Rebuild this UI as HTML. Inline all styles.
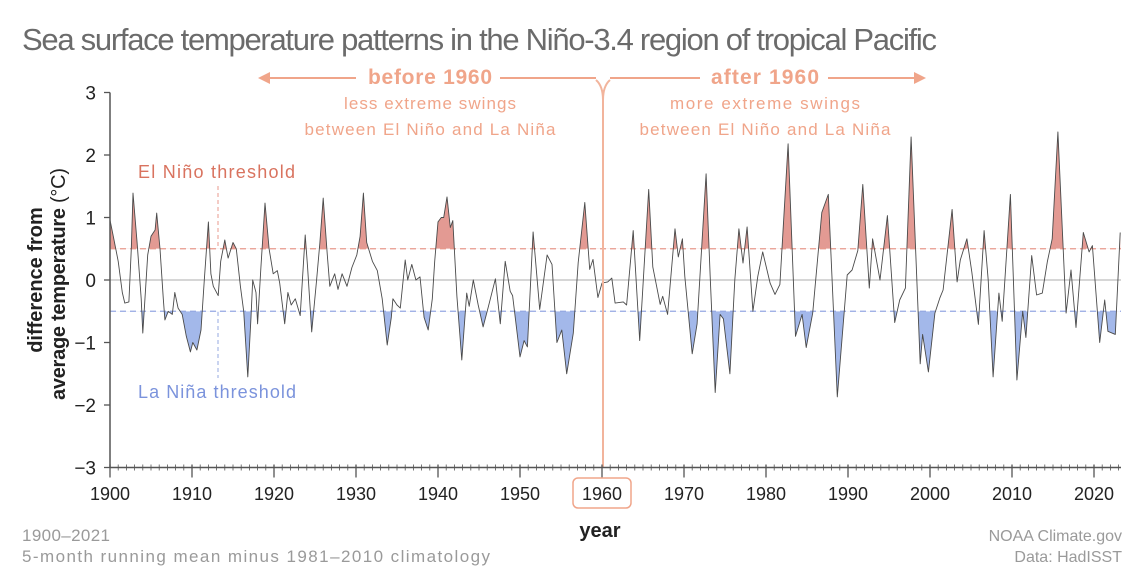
<!DOCTYPE html>
<html><head><meta charset="utf-8"><style>
html,body{margin:0;padding:0;background:#fff;width:1148px;height:572px;overflow:hidden}
svg{display:block;font-family:"Liberation Sans",sans-serif}
</style></head><body>
<svg id="chart" width="1148" height="572" viewBox="0 0 1148 572">
<text x="22" y="50" font-size="31" fill="#6b6b6b" textLength="915">Sea surface temperature patterns in the Niño-3.4 region of tropical Pacific</text>
<g id="plot"></g>
</svg>
<script>
const years=[1900.0,1900.4,1901.0,1901.5,1901.8,1902.3,1902.6,1902.8,1903.3,1903.8,1904.0,1904.6,1905.0,1905.5,1905.7,1906.1,1906.5,1906.7,1907.1,1907.6,1907.9,1908.3,1908.8,1909.3,1909.8,1910.1,1910.6,1911.1,1911.5,1912.0,1912.3,1912.6,1913.2,1913.5,1914.0,1914.4,1915.0,1915.4,1915.9,1916.3,1916.8,1917.2,1917.4,1917.8,1918.0,1918.4,1918.9,1919.4,1919.9,1920.4,1920.7,1921.3,1921.7,1922.1,1922.6,1923.2,1923.8,1924.1,1924.6,1925.2,1925.6,1926.0,1926.5,1926.8,1927.4,1927.8,1928.3,1928.9,1929.5,1930.1,1930.5,1930.9,1931.3,1932.0,1932.6,1933.2,1933.8,1934.3,1934.5,1935.0,1935.4,1936.0,1936.3,1936.8,1937.3,1937.8,1938.3,1938.8,1939.3,1939.6,1940.0,1940.4,1940.7,1941.1,1941.5,1941.8,1942.3,1942.9,1943.5,1943.8,1944.3,1944.9,1945.5,1946.1,1947.0,1947.6,1948.2,1948.8,1949.1,1950.0,1950.5,1950.9,1951.6,1952.4,1953.3,1953.9,1954.5,1955.1,1955.7,1956.5,1957.1,1957.9,1958.5,1958.9,1959.5,1960.0,1960.7,1961.2,1961.6,1962.6,1963.0,1963.8,1964.6,1965.7,1966.2,1967.1,1967.4,1968.0,1968.9,1969.3,1969.8,1970.1,1971.0,1971.6,1972.7,1973.2,1973.8,1974.4,1974.8,1975.6,1976.2,1976.7,1977.2,1977.7,1978.4,1979.0,1979.6,1980.5,1981.1,1981.7,1982.7,1983.6,1984.4,1984.9,1985.7,1986.8,1987.6,1988.7,1989.9,1990.5,1991.2,1991.8,1992.6,1993.0,1993.9,1994.8,1995.7,1996.3,1997.0,1997.7,1998.8,1999.1,1999.8,2000.6,2001.2,2001.6,2002.7,2003.3,2003.7,2004.5,2005.1,2005.9,2006.6,2007.1,2007.7,2008.4,2008.8,2009.8,2010.6,2011.3,2011.7,2012.4,2013.0,2013.7,2014.3,2014.9,2015.6,2016.6,2017.2,2017.8,2018.7,2019.4,2019.8,2020.7,2021.3,2021.7,2022.6,2023.2];
const anomalies=[0.96,0.7,0.3,-0.2,-0.37,-0.35,0.5,1.39,0.6,-0.3,-0.85,0.4,0.7,0.8,1.07,0.5,-0.3,-0.64,-0.5,-0.55,-0.2,-0.45,-0.55,-0.9,-1.15,-1.0,-1.12,-0.8,0.0,0.93,0.1,-0.1,-0.25,0.3,0.64,0.35,0.6,0.5,-0.1,-0.5,-1.55,-0.6,0.0,-0.2,-0.7,0.2,1.23,0.5,0.1,0.15,-0.05,-0.7,-0.2,-0.4,-0.3,-0.57,0.72,0.2,-0.83,0.0,0.6,1.31,0.4,-0.1,0.1,-0.15,0.1,-0.1,0.2,0.4,0.7,1.39,0.6,0.3,0.15,-0.3,-1.04,-0.6,-0.3,-0.4,-0.45,0.32,0.0,0.25,0.0,0.05,-0.6,-0.8,-0.3,0.3,0.93,1.0,1.0,1.33,0.84,0.95,-0.26,-1.28,-0.21,-0.42,0.0,-0.4,-0.75,-0.45,0.02,-0.7,0.3,-0.18,-0.25,-1.23,-0.97,-1.07,0.77,-0.47,0.4,0.25,-1.0,-0.8,-1.5,-0.85,0.28,1.24,0.17,0.33,-0.28,-0.05,-0.03,0.03,-0.37,-0.35,-0.4,0.79,-0.97,1.45,0.21,-0.39,-0.26,-0.55,0.82,0.37,0.66,0.06,-1.18,-0.7,1.7,0.05,-1.8,-0.55,-0.62,-1.5,0.0,0.82,0.27,0.85,-0.5,0.06,0.45,-0.05,-0.23,-0.07,2.18,-0.9,-0.55,-1.08,-0.53,1.08,1.37,-1.87,0.08,0.16,0.47,1.53,-0.13,0.66,0.0,1.03,-0.68,-0.32,-0.13,2.29,-1.34,-0.87,-1.47,-0.53,-0.29,-0.16,1.13,-0.03,0.32,0.66,0.13,-0.71,0.79,0.0,-1.55,-0.21,-0.66,1.37,-1.6,-0.5,-0.92,0.39,-0.24,-0.21,0.29,0.66,2.37,-0.53,0.16,-0.76,0.76,0.45,0.55,-1.0,-0.32,-0.82,-0.87,0.76];
const yTicks=[3,2,1,0,-1,-2,-3];
const yTickLabels=["3","2","1","0","−1","−2","−3"];
const xTicks=[1900,1910,1920,1930,1940,1950,1960,1970,1980,1990,2000,2010,2020];
const thresholds=[0.5,-0.5];

const NS="http://www.w3.org/2000/svg";
const X0=110,PX=8.2,Y0=280,PY=62.5,XEND=1121;
function xs(y){return X0+(y-1900)*PX;}
function ys(v){return Y0-v*PY;}
const plot=document.getElementById('plot');
function mk(tag,attrs,parent){const e=document.createElementNS(NS,tag);for(const k in attrs)e.setAttribute(k,attrs[k]);(parent||plot).appendChild(e);return e;}

const defs=mk('defs',{});
const cpR=mk('clipPath',{id:'above'},defs);mk('rect',{x:0,y:0,width:1148,height:ys(thresholds[0])},cpR);
const cpB=mk('clipPath',{id:'below'},defs);mk('rect',{x:0,y:ys(thresholds[1]),width:1148,height:600},cpB);

let pts=years.map((y,i)=>xs(y).toFixed(1)+','+ys(anomalies[i]).toFixed(1));
const first=xs(years[0]),last=xs(years[years.length-1]);
const redArea=mk('path',{d:'M'+first+','+ys(thresholds[0])+' L'+pts.join(' L')+' L'+last+','+ys(thresholds[0])+'Z',fill:'#e39a93','clip-path':'url(#above)'});


const blueArea=mk('path',{d:'M'+first+','+ys(thresholds[1])+' L'+pts.join(' L')+' L'+last+','+ys(thresholds[1])+'Z',fill:'#a3b8ea','clip-path':'url(#below)'});



const zl=mk('line',{x1:X0,x2:XEND,y1:ys(0),y2:ys(0),stroke:'#c8c8c8','stroke-width':1.5});


const tr=mk('line',{x1:X0,x2:XEND,y1:ys(thresholds[0]),y2:ys(thresholds[0]),stroke:'#e8998c','stroke-width':1.3,'stroke-dasharray':'6,4'});


const tb=mk('line',{x1:X0,x2:XEND,y1:ys(thresholds[1]),y2:ys(thresholds[1]),stroke:'#95a8e2','stroke-width':1.3,'stroke-dasharray':'6,4'});



const ln=mk('polyline',{points:pts.join(' '),fill:'none',stroke:'#4a4a4a','stroke-width':0.9,'stroke-linejoin':'round'});



const vl=mk('path',{d:'M603,467 L603,100 Q603,86 596,80 M603,100 Q603,86 610,80',fill:'none',stroke:'#f2b49c','stroke-width':2});



const ya=mk('line',{x1:X0,x2:X0,y1:ys(3),y2:ys(-3),stroke:'#555','stroke-width':1.5});


const xa=mk('line',{x1:X0,x2:XEND,y1:ys(-3),y2:ys(-3),stroke:'#555','stroke-width':1.5});


yTicks.forEach((v,i)=>{
  const t=mk('line',{x1:X0-6,x2:X0,y1:ys(v),y2:ys(v),stroke:'#555','stroke-width':1.3});
  
  
  const l=mk('text',{x:X0-14,y:ys(v)+7,'font-size':19,fill:'#222','text-anchor':'end'});
  l.textContent=yTickLabels[i];
  
  
});
for(let y=1900;y<=2023;y++){
  const major=y%10===0;
  const t=mk('line',{x1:xs(y),x2:xs(y),y1:ys(-3)-3,y2:ys(-3)+(major?10:3),stroke:'#555','stroke-width':major?1.3:0.8});
  
  
}
xTicks.forEach(y=>{
  const l=mk('text',{x:xs(y),y:500,'font-size':18,fill:'#222','text-anchor':'middle'});
  l.textContent=String(y);
  
  
});
const box=mk('rect',{x:xs(1960)-29,y:478,width:58,height:30,rx:5,fill:'none',stroke:'#f0a58a','stroke-width':1.5});


</script>
<svg style="position:absolute;left:0;top:0" width="1148" height="572">
<g font-family="Liberation Sans, sans-serif">
<text transform="translate(42,280) rotate(-90)" text-anchor="middle" font-size="20" font-weight="bold" fill="#222">difference from</text>
<text transform="translate(65,284) rotate(-90)" text-anchor="middle" font-size="20" fill="#222" textLength="232"><tspan font-weight="bold">average temperature</tspan> (°C)</text>
<text x="600" y="537" text-anchor="middle" font-size="20" font-weight="bold" fill="#222">year</text>
<text x="138" y="178" font-size="18" fill="#d9735f" textLength="157">El Niño threshold</text>
<line x1="218" y1="186" x2="218" y2="249" stroke="#e8998c" stroke-dasharray="4,3"/>
<text x="138" y="398" font-size="18" fill="#7b93dc" textLength="158">La Niña threshold</text>
<line x1="218" y1="312" x2="218" y2="378" stroke="#95a8e2" stroke-dasharray="4,3"/>
<g fill="#f0a58a" stroke="#f0a58a" stroke-width="2">
<line x1="262" y1="78" x2="356" y2="78"/><polygon points="258,78 270,72 270,84" stroke="none"/>
<line x1="500" y1="78" x2="596" y2="78"/>
<line x1="610" y1="78" x2="700" y2="78"/>
<line x1="828" y1="78" x2="920" y2="78"/><polygon points="926,78 914,72 914,84" stroke="none"/>
</g>
<text x="430" y="84" text-anchor="middle" font-size="21" font-weight="bold" fill="#f0a58a" textLength="124">before 1960</text>
<text x="430" y="109" text-anchor="middle" font-size="17" fill="#f0a58a" textLength="172">less extreme swings</text>
<text x="430" y="135" text-anchor="middle" font-size="17" fill="#f0a58a" textLength="251">between El Niño and La Niña</text>
<text x="765" y="84" text-anchor="middle" font-size="21" font-weight="bold" fill="#f0a58a" textLength="108">after 1960</text>
<text x="765" y="109" text-anchor="middle" font-size="17" fill="#f0a58a" textLength="190">more extreme swings</text>
<text x="765" y="135" text-anchor="middle" font-size="17" fill="#f0a58a" textLength="251">between El Niño and La Niña</text>
<text x="22" y="541" font-size="17" fill="#9a9a9a" textLength="88">1900–2021</text>
<text x="22" y="562" font-size="17" fill="#9a9a9a" textLength="468">5-month running mean minus 1981–2010 climatology</text>
<text x="1122" y="541" text-anchor="end" font-size="16" fill="#9a9a9a">NOAA Climate.gov</text>
<text x="1122" y="562" text-anchor="end" font-size="16" fill="#9a9a9a">Data: HadISST</text>
</g>
</svg>
</body></html>
